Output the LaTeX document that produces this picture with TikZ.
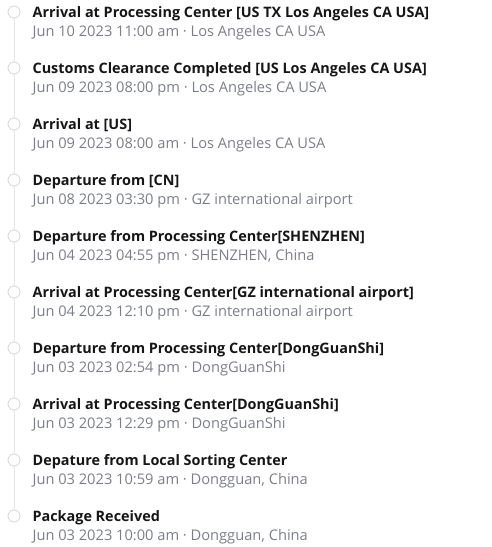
\documentclass[tikz,border=0pt]{standalone}
\usepackage{fontspec}
\setmainfont{Open Sans}
\usetikzlibrary{positioning}
\definecolor{dotGray}{HTML}{D6D6D6}
\definecolor{lineGray}{HTML}{E6E6E6}
\definecolor{infoGray}{HTML}{7A7F89}
\definecolor{titleBlack}{HTML}{161616}
\tikzstyle{tDot} = [circle, draw=dotGray, fill=white, line width=0.8pt, minimum size=12pt, inner sep=0pt]
\tikzstyle{tTitle} = [inner sep=0pt, text height=12pt, text depth=1.6pt, font=\fontsize{14.4}{16}\selectfont\bfseries, text=titleBlack]
\tikzstyle{tInfo} = [inner sep=0pt, text height=12pt, text depth=1.6pt, font=\fontsize{14.65}{16}\selectfont, text=infoGray]
\tikzstyle{tLine} = [draw=lineGray, line width=1pt]

\begin{document}
\begin{tikzpicture}[x=1pt, y=1pt, node distance=56pt]
    \useasboundingbox (0,0) rectangle (492,-547);
    \node (d1) [tDot] at (14,-12) {};
    \node (d2) [tDot, below of=d1] {};
    \node (d3) [tDot, below of=d2] {};
    \node (d4) [tDot, below of=d3] {};
    \node (d5) [tDot, below of=d4] {};
    \node (d6) [tDot, below of=d5] {};
    \node (d7) [tDot, below of=d6] {};
    \node (d8) [tDot, below of=d7] {};
    \node (d9) [tDot, below of=d8] {};
    \node (d10) [tDot, below of=d9] {};

    \node (t1) [tTitle, right=12pt of d1] {Arrival at Processing Center [US TX Los Angeles CA USA]};
    \node (t2) [tTitle, right=12pt of d2] {Customs Clearance Completed [US Los Angeles CA USA]};
    \node (t3) [tTitle, right=12pt of d3] {Arrival at [US]};
    \node (t4) [tTitle, right=12pt of d4] {Departure from [CN]};
    \node (t5) [tTitle, right=12pt of d5] {Departure from Processing Center[SHENZHEN]};
    \node (t6) [tTitle, right=12pt of d6] {Arrival at Processing Center[GZ international airport]};
    \node (t7) [tTitle, right=12pt of d7] {Departure from Processing Center[DongGuanShi]};
    \node (t8) [tTitle, right=12pt of d8] {Arrival at Processing Center[DongGuanShi]};
    \node (t9) [tTitle, right=12pt of d9] {Depature from Local Sorting Center};
    \node (t10) [tTitle, right=12pt of d10] {Package Received};

    \node (i1) [tInfo, below right=5.4pt and 0pt of t1.south west] {Jun 10 2023 11:00 am · Los Angeles CA USA};
    \node (i2) [tInfo, below right=5.4pt and 0pt of t2.south west] {Jun 09 2023 08:00 pm · Los Angeles CA USA};
    \node (i3) [tInfo, below right=5.4pt and 0pt of t3.south west] {Jun 09 2023 08:00 am · Los Angeles CA USA};
    \node (i4) [tInfo, below right=5.4pt and 0pt of t4.south west] {Jun 08 2023 03:30 pm · GZ international airport};
    \node (i5) [tInfo, below right=5.4pt and 0pt of t5.south west] {Jun 04 2023 04:55 pm · SHENZHEN, China};
    \node (i6) [tInfo, below right=5.4pt and 0pt of t6.south west] {Jun 04 2023 12:10 pm · GZ international airport};
    \node (i7) [tInfo, below right=5.4pt and 0pt of t7.south west] {Jun 03 2023 02:54 pm · DongGuanShi};
    \node (i8) [tInfo, below right=5.4pt and 0pt of t8.south west] {Jun 03 2023 12:29 pm · DongGuanShi};
    \node (i9) [tInfo, below right=5.4pt and 0pt of t9.south west] {Jun 03 2023 10:59 am · Dongguan, China};
    \node (i10) [tInfo, below right=5.4pt and 0pt of t10.south west] {Jun 03 2023 10:00 am · Dongguan, China};

    \draw [tLine] (d1) -- (d2);
    \draw [tLine] (d2) -- (d3);
    \draw [tLine] (d3) -- (d4);
    \draw [tLine] (d4) -- (d5);
    \draw [tLine] (d5) -- (d6);
    \draw [tLine] (d6) -- (d7);
    \draw [tLine] (d7) -- (d8);
    \draw [tLine] (d8) -- (d9);
    \draw [tLine] (d9) -- (d10);
\end{tikzpicture}
\end{document}
